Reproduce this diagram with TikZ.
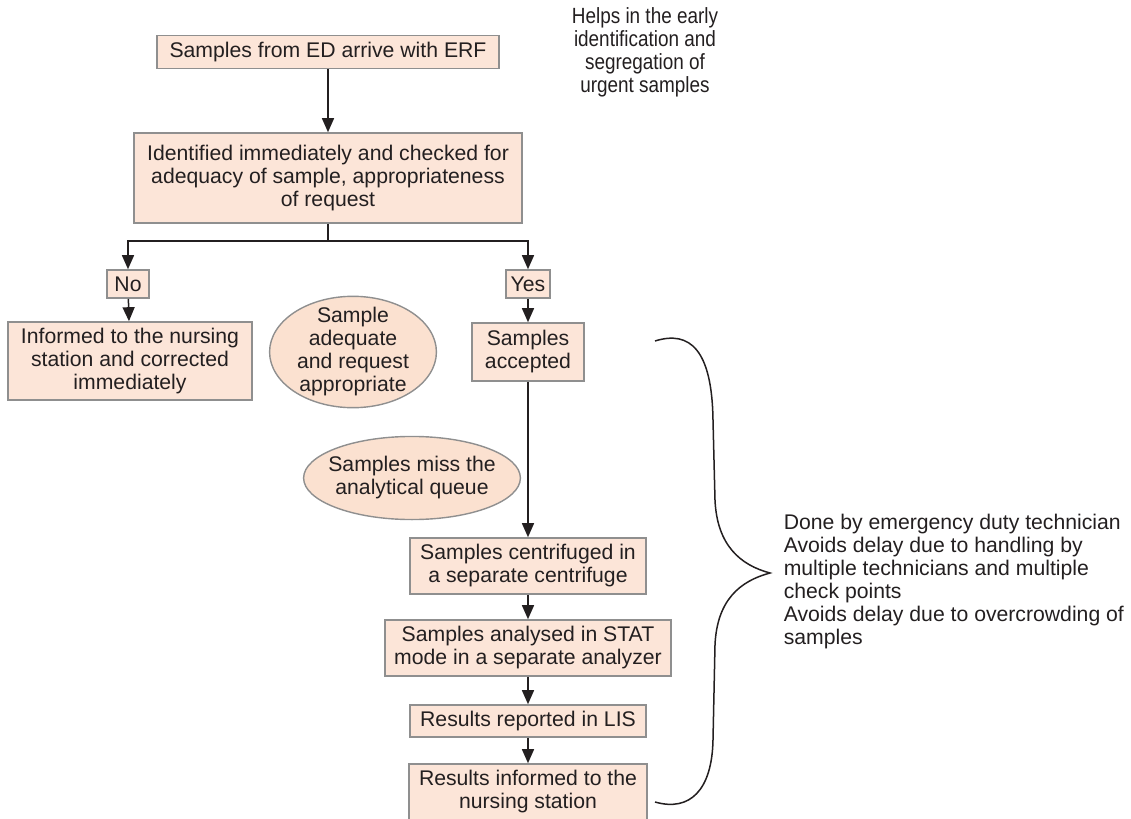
\documentclass[tikz,border=0pt]{standalone}
\usepackage{fontspec}
\setmainfont{Liberation Sans}
\newfontfamily\narrowfont[FakeStretch=0.86]{Liberation Sans}
\usepackage{tikz}
\usetikzlibrary{arrows.meta,positioning,calc,shapes.geometric}

\definecolor{boxfill}{HTML}{FCE5D8}
\definecolor{blobfill}{HTML}{FBE1D0}
\definecolor{boxline}{HTML}{8F8F8F}
\definecolor{ink}{HTML}{231F20}

\tikzset{
  box/.style={draw=boxline, fill=boxfill, line width=0.8pt, inner sep=0pt,
    align=center, text=ink, font=\fontsize{10.6}{11.5}\selectfont},
  blob/.style={ellipse, draw=boxline, fill=blobfill, line width=0.7pt,
    align=center, text=ink, font=\fontsize{10.6}{11.5}\selectfont},
  note/.style={align=center, text=ink, inner sep=0pt, font=\fontsize{10.6}{11.5}\selectfont}
}

\begin{document}
\begin{tikzpicture}[->, >={Triangle[width=6pt,length=7pt]}, line width=0.75pt,
  x=0.5pt, y=-0.5pt, color=ink]
\useasboundingbox (0,0) rectangle (1131,819);
\node[box, minimum width=171pt, minimum height=16.5pt] (A) at (328,52) {Samples from ED arrive with ERF};
\node[note, font=\narrowfont\fontsize{11}{11.5}\selectfont] (H) at (645,52) {Helps in the early\\identification and\\segregation of\\urgent samples};
\node[box, minimum width=194pt, minimum height=45pt] (B) at (328,178) {Identified immediately and checked for\\adequacy of sample, appropriateness\\of request};
\node[box, minimum width=21pt, minimum height=14pt] (N) at (128,284) {No};
\node[box, minimum width=22pt, minimum height=14pt] (Y) at (528,284) {Yes};
\node[box, minimum width=122pt, minimum height=39pt] (I) at (130,361) {Informed to the nursing\\station and corrected\\immediately};
\node[box, minimum width=56pt, minimum height=29pt] (S) at (528,352) {Samples\\accepted};
\node[blob, inner xsep=1.5pt, inner ysep=-2.5pt] (E1) at (353,352) {Sample\\adequate\\and request\\appropriate};
\node[blob, inner xsep=-3.5pt, inner ysep=4pt] (E2) at (412,478) {Samples miss the\\analytical queue};
\node[box, minimum width=118pt, minimum height=28pt] (C) at (528,566) {Samples centrifuged in\\a separate centrifuge};
\node[box, minimum width=143pt, minimum height=28pt] (M) at (528,648) {Samples analysed in STAT\\mode in a separate analyzer};
\node[box, minimum width=118pt, minimum height=16pt] (L) at (528,721) {Results reported in LIS};
\node[box, minimum width=119pt, minimum height=28pt] (R) at (528,792) {Results informed to the\\nursing station};
\node[note, align=left, anchor=west] (T) at (783,582) {Done by emergency duty technician\\Avoids delay due to handling by\\multiple technicians and multiple\\check points\\Avoids delay due to overcrowding of\\samples};
\coordinate (J) at (328,241);
\path(A) edge (B);
\draw (B) -- (J) -| (N);
\draw (J) -| (Y);
\path(N) edge (I);
\path(Y) edge (S);
\path(S) edge (C);
\path(C) edge (M);
\path(M) edge (L);
\path(L) edge (R);
% brace
\draw[-] (655,341) .. controls (690,330) and (712,350) .. (713,420) -- (715,500)
  .. controls (717,545) and (740,565) .. (770,573)
  .. controls (740,581) and (717,600) .. (715,645) -- (713,740)
  .. controls (712,790) and (690,812) .. (655,802);
\end{tikzpicture}
\end{document}
